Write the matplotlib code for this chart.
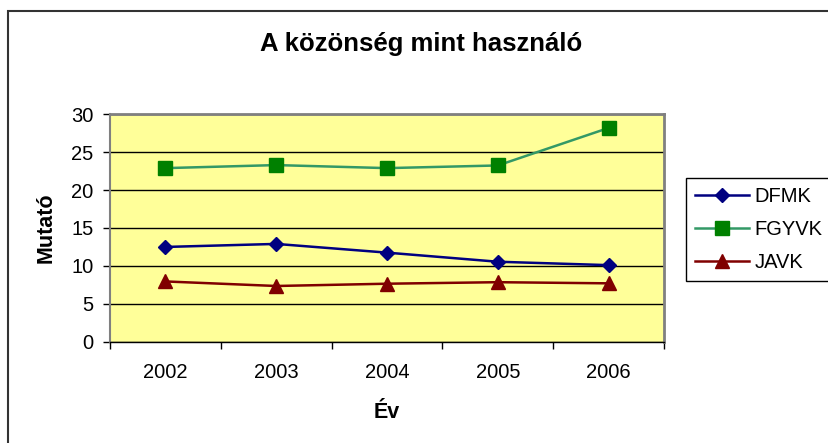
import matplotlib
matplotlib.use("Agg")
import matplotlib.pyplot as plt
from matplotlib.patches import Rectangle

plt.rcParams['font.family'] = ['Liberation Sans', 'DejaVu Sans']

years = ['2002', '2003', '2004', '2005', '2006']
dfmk = [12.5, 12.9, 11.75, 10.55, 10.1]
fgyvk = [22.9, 23.3, 22.9, 23.25, 28.2]
javk = [7.95, 7.35, 7.65, 7.85, 7.7]

fig = plt.figure(figsize=(8.29, 4.43), dpi=100)
ax = fig.add_axes([110/829, 1-341.7/443, 554/829, 227.4/443])
ax.set_facecolor('#FFFF99')

x = range(len(years))
ax.plot(x, dfmk, color='#000080', lw=1.8, marker='D', ms=7.5, mfc='#000080', mec='#000080', label='DFMK', zorder=3)
ax.plot(x, fgyvk, color='#339966', lw=1.8, marker='s', ms=9.5, mfc='#008000', mec='#008000', label='FGYVK', zorder=3)
ax.plot(x, javk, color='#800000', lw=1.8, marker='^', ms=9.5, mfc='#800000', mec='#800000', label='JAVK', zorder=3)

ax.set_xlim(-0.5, 4.5)
ax.set_ylim(0, 30)
ax.set_yticks(range(0, 31, 5))
ax.set_xticks([i - 0.5 for i in range(6)], minor=False)
ax.set_xticklabels([])
ax.set_xticks(list(x), minor=True)
ax.set_xticklabels(years, minor=True)
ax.tick_params(axis='x', which='major', direction='out', length=5, width=1, color='black')
ax.tick_params(axis='x', which='minor', length=0, pad=15, labelsize=14.5)
ax.tick_params(axis='y', direction='out', length=5, width=1, pad=7, labelsize=14.5)
ax.yaxis.grid(True, color='black', lw=1)
ax.set_axisbelow(True)

for s in ['top', 'right']:
    ax.spines[s].set_color('#808080')
    ax.spines[s].set_linewidth(2)
ax.spines['left'].set_color('#808080')
ax.spines['left'].set_linewidth(1.5)
ax.spines['bottom'].set_color('black')
ax.spines['bottom'].set_linewidth(1)

fig.text(421/829, 1-50.7/443, 'A közönség mint használó', ha='center', va='baseline',
         fontsize=18.5, fontweight='bold')
fig.text(46/829, 1-228/443, 'Mutató', rotation=90, ha='center', va='center',
         fontsize=15.5, fontweight='bold')
fig.text(387/829, 1-412/443, 'Év', ha='center', va='center',
         fontsize=15.5, fontweight='bold')

leg = fig.legend(loc='upper left', bbox_to_anchor=(686/829, 1-177.7/443), fontsize=14.5,
                 frameon=True, fancybox=False, edgecolor='black', framealpha=1,
                 handlelength=2.7, handletextpad=0.25, labelspacing=0.7,
                 borderpad=0.45, borderaxespad=0)
leg.get_frame().set_linewidth(1)

fig.patches.append(Rectangle((8/829, -0.05), 1.1, 1.05 - 11/443, transform=fig.transFigure,
                             fill=False, edgecolor='#333333', lw=1.5, figure=fig))

fig.savefig('out.png', dpi=100)
